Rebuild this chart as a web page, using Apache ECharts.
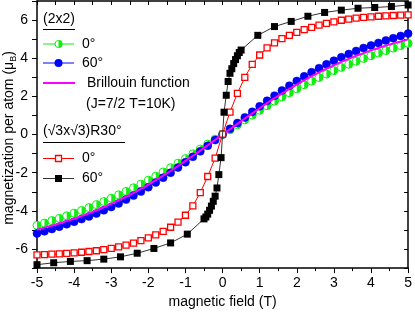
<!DOCTYPE html>
<html>
<head>
<meta charset="utf-8">
<script src="https://cdn.jsdelivr.net/npm/echarts@6/dist/echarts.min.js"></script>
<style>html,body{margin:0;padding:0;background:#fff}#c{width:415px;height:314px}</style>
</head>
<body>
<div id="c"></div>
<script>
// magnetic field grid (T) for the (2x2) series and the (√3x√3)R30° 0° series
const field = [-5,-4.8,-4.6,-4.4,-4.2,-4,-3.8,-3.6,-3.4,-3.2,-3,-2.8,-2.6,-2.4,-2.2,-2,-1.8,-1.6,-1.4,-1.2,-1,-0.8,-0.6,-0.4,-0.2,0,0.2,0.4,0.6,0.8,1,1.2,1.4,1.6,1.8,2,2.2,2.4,2.6,2.8,3,3.2,3.4,3.6,3.8,4,4.2,4.4,4.6,4.8,5];
// (2x2) 0°
const m2x2_0 = [-4.76,-4.64,-4.51,-4.39,-4.26,-4.12,-3.98,-3.83,-3.67,-3.51,-3.34,-3.16,-2.98,-2.79,-2.60,-2.39,-2.18,-1.96,-1.74,-1.50,-1.26,-1.01,-0.76,-0.50,-0.24,0.01,0.25,0.51,0.77,1.02,1.27,1.51,1.75,1.97,2.19,2.40,2.61,2.80,2.99,3.17,3.35,3.52,3.68,3.84,3.99,4.13,4.27,4.40,4.53,4.66,4.78];
// (2x2) 60°
const m2x2_60 = [-5.18,-5.07,-4.95,-4.83,-4.70,-4.57,-4.43,-4.29,-4.14,-3.97,-3.80,-3.61,-3.41,-3.20,-2.99,-2.76,-2.51,-2.26,-2.00,-1.73,-1.45,-1.17,-0.88,-0.59,-0.29,0.00,0.30,0.60,0.90,1.19,1.48,1.77,2.04,2.31,2.56,2.81,3.05,3.27,3.48,3.68,3.87,4.05,4.22,4.38,4.53,4.67,4.80,4.93,5.05,5.17,5.29];
// Brillouin function (J=7/2, T=10K)
const brillouin = [-4.99,-4.88,-4.78,-4.66,-4.54,-4.41,-4.27,-4.13,-3.97,-3.81,-3.63,-3.45,-3.26,-3.06,-2.85,-2.62,-2.39,-2.15,-1.91,-1.65,-1.38,-1.11,-0.84,-0.56,-0.28,0,0.28,0.56,0.84,1.11,1.38,1.65,1.91,2.15,2.39,2.62,2.85,3.06,3.26,3.45,3.63,3.81,3.97,4.13,4.27,4.41,4.54,4.66,4.78,4.88,4.99];
// (√3x√3)R30° 0°
const mR30_0 = [-6.31,-6.29,-6.27,-6.25,-6.23,-6.20,-6.17,-6.13,-6.09,-6.03,-5.97,-5.89,-5.80,-5.69,-5.56,-5.42,-5.26,-5.08,-4.86,-4.59,-4.23,-3.74,-3.04,-2.20,-1.24,0.02,1.18,2.16,3.00,3.68,4.17,4.54,4.81,5.03,5.20,5.36,5.50,5.62,5.74,5.83,5.91,5.99,6.05,6.10,6.14,6.17,6.20,6.22,6.24,6.26,6.27];
// (√3x√3)R30° 60°
const fieldR30_60 = [-5,-4.55,-4.1,-3.65,-3.2,-2.75,-2.3,-1.85,-1.4,-0.95,-0.5,-0.45,-0.4,-0.35,-0.3,-0.25,-0.2,-0.15,-0.1,-0.04,0.04,0.1,0.15,0.2,0.25,0.3,0.35,0.4,0.45,0.5,0.95,1.4,1.85,2.3,2.75,3.2,3.65,4.1,4.55,5];
const mR30_60 = [-6.82,-6.72,-6.65,-6.61,-6.53,-6.41,-6.22,-5.97,-5.68,-5.22,-4.42,-4.32,-4.17,-3.97,-3.75,-3.50,-3.23,-2.80,-2.10,-1.21,1.17,2.06,2.78,3.21,3.45,3.72,3.93,4.13,4.30,4.43,5.20,5.66,5.93,6.20,6.40,6.52,6.62,6.66,6.71,6.79];
// y tick labels shown
const yLabelValues = [-6,-4,-2,0,2,4,6];

const FONT = 'Liberation Sans, Arial, sans-serif';
const GREEN = '#11ee11', BLUE = '#0000ff', MAG = '#ff00ff', RED = '#ff0000', BLK = '#000000';
const pairs = (xs, ys) => xs.map((x, i) => [x, ys[i]]);
const halfCircle = 'path://M0,0 A10,10 0 0 1 0,20 Z';

const chart = echarts.init(document.getElementById('c'), null, {renderer: 'canvas'});
const axisLine = {show: true, onZero: false, lineStyle: {color: '#000', width: 1.5}};
const tickStyle = {color: '#000', width: 1};

const option = {
  animation: false,
  grid: {left: 37, right: 4, top: 1, bottom: 40, containLabel: false},
  xAxis: [
    {type: 'value', min: -5, max: 5, interval: 1, position: 'bottom',
     axisLine, splitLine: {show: false},
     axisTick: {length: 5, lineStyle: tickStyle},
     minorTick: {show: true, splitNumber: 2, length: 3, lineStyle: tickStyle},
     axisLabel: {color: '#000', fontSize: 14, fontFamily: FONT, margin: 8},
     name: 'magnetic field (T)', nameLocation: 'middle', nameGap: 26,
     nameTextStyle: {color: '#000', fontSize: 14, fontFamily: FONT}},
    {type: 'value', min: -5, max: 5, interval: 0.5, position: 'top',
     axisLine, splitLine: {show: false},
     axisTick: {inside: true, length: 4, lineStyle: tickStyle},
     axisLabel: {show: false}}
  ],
  yAxis: [
    {type: 'value', min: -7, max: 7, interval: 1, position: 'left',
     axisLine, splitLine: {show: false},
     axisTick: {length: 5, lineStyle: tickStyle},
     axisLabel: {color: '#000', fontSize: 14, fontFamily: FONT, margin: 9,
                 formatter: v => (yLabelValues.indexOf(v) >= 0 ? String(v) : '')}},
    {type: 'value', min: -7, max: 7, interval: 1, position: 'right',
     axisLine, splitLine: {show: false},
     axisTick: {inside: true, length: 4, lineStyle: tickStyle},
     axisLabel: {show: false}}
  ],
  series: [
    {name: '0° (2x2)', type: 'line', data: pairs(field, m2x2_0), symbol: 'circle', symbolSize: 8,
     lineStyle: {color: GREEN, width: 1}, itemStyle: {color: '#fff', borderColor: GREEN, borderWidth: 1}, z: 2},
    {name: '0° (2x2) fill', type: 'line', data: pairs(field, m2x2_0), symbol: halfCircle, symbolSize: [4, 8],
     symbolOffset: [2, 0], lineStyle: {width: 0, opacity: 0}, itemStyle: {color: GREEN, borderWidth: 0}, z: 2},
    {name: '60° (2x2)', type: 'line', data: pairs(field, m2x2_60), symbol: 'circle', symbolSize: 8,
     lineStyle: {color: BLUE, width: 1}, itemStyle: {color: BLUE, borderColor: '#0000cc', borderWidth: 0.5}, z: 3},
    {name: 'Brillouin', type: 'line', data: pairs(field, brillouin), showSymbol: false,
     lineStyle: {color: MAG, width: 2}, z: 4},
    {name: '0° R30', type: 'line', data: pairs(field, mR30_0), symbol: 'rect', symbolSize: 6,
     lineStyle: {color: RED, width: 1}, itemStyle: {color: '#fff', borderColor: RED, borderWidth: 1.3}, z: 5},
    {name: '60° R30', type: 'line', data: pairs(fieldR30_60, mR30_60), symbol: 'rect', symbolSize: 7,
     lineStyle: {color: '#333', width: 1}, itemStyle: {color: BLK}, z: 6}
  ],
  graphic: [
    {type: 'text', x: 9, y: 138, rotation: Math.PI / 2,
     style: {text: '{a|magnetization per atom (μ}{s|B}{a|)}', align: 'center', verticalAlign: 'middle',
       rich: {a: {fontSize: 14, fontFamily: FONT, fill: '#000', lineHeight: 18, verticalAlign: 'middle'},
              s: {fontSize: 9, fontFamily: FONT, fill: '#000', lineHeight: 18, verticalAlign: 'bottom'}}}},
    {type: 'text', x: 43, y: 19, style: {text: '(2x2)', fill: '#000', font: '14px ' + FONT, align: 'left', verticalAlign: 'middle'}},
    {type: 'line', shape: {x1: 43, y1: 29.5, x2: 75, y2: 29.5}, style: {stroke: '#000', lineWidth: 1}},
    {type: 'line', shape: {x1: 43, y1: 44, x2: 74, y2: 44}, style: {stroke: GREEN, lineWidth: 1}},
    {type: 'circle', shape: {cx: 58.5, cy: 44, r: 3.5}, style: {fill: '#fff', stroke: GREEN, lineWidth: 1}},
    {type: 'sector', shape: {cx: 58.5, cy: 44, r: 4, r0: 0, startAngle: -Math.PI / 2, endAngle: Math.PI / 2}, style: {fill: GREEN}},
    {type: 'text', x: 82, y: 44, style: {text: '0°', fill: '#000', font: '14px ' + FONT, align: 'left', verticalAlign: 'middle'}},
    {type: 'line', shape: {x1: 43, y1: 63, x2: 74, y2: 63}, style: {stroke: BLUE, lineWidth: 1}},
    {type: 'circle', shape: {cx: 58.5, cy: 63, r: 4}, style: {fill: BLUE}},
    {type: 'text', x: 82, y: 63, style: {text: '60°', fill: '#000', font: '14px ' + FONT, align: 'left', verticalAlign: 'middle'}},
    {type: 'line', shape: {x1: 43, y1: 83, x2: 75, y2: 83}, style: {stroke: MAG, lineWidth: 2}},
    {type: 'text', x: 87, y: 83, style: {text: 'Brillouin function', fill: '#000', font: '14px ' + FONT, align: 'left', verticalAlign: 'middle'}},
    {type: 'text', x: 86, y: 104, style: {text: '(J=7/2 T=10K)', fill: '#000', font: '14px ' + FONT, align: 'left', verticalAlign: 'middle'}},
    {type: 'text', x: 43, y: 131, style: {text: '(√3x√3)R30°', fill: '#000', font: '14px ' + FONT, align: 'left', verticalAlign: 'middle'}},
    {type: 'line', shape: {x1: 43, y1: 142.5, x2: 125, y2: 142.5}, style: {stroke: '#000', lineWidth: 1}},
    {type: 'line', shape: {x1: 43, y1: 158.5, x2: 74, y2: 158.5}, style: {stroke: RED, lineWidth: 1}},
    {type: 'rect', shape: {x: 55.5, y: 155.5, width: 6, height: 6}, style: {fill: '#fff', stroke: RED, lineWidth: 1.3}},
    {type: 'text', x: 82, y: 158.5, style: {text: '0°', fill: '#000', font: '14px ' + FONT, align: 'left', verticalAlign: 'middle'}},
    {type: 'line', shape: {x1: 43, y1: 178.5, x2: 74, y2: 178.5}, style: {stroke: '#333', lineWidth: 1}},
    {type: 'rect', shape: {x: 55, y: 175, width: 7, height: 7}, style: {fill: BLK}},
    {type: 'text', x: 82, y: 178.5, style: {text: '60°', fill: '#000', font: '14px ' + FONT, align: 'left', verticalAlign: 'middle'}}
  ]
};
chart.setOption(option);
</script>
</body>
</html>
